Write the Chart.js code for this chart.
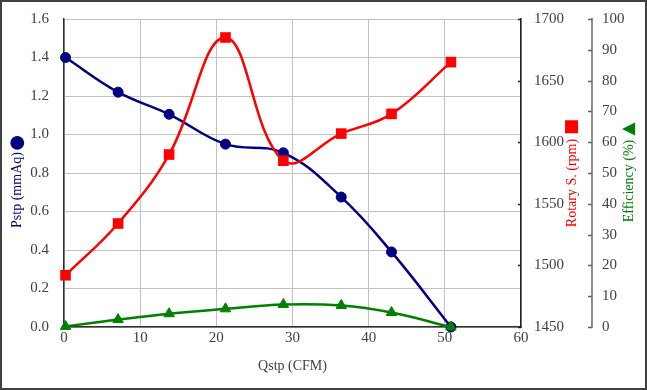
<!DOCTYPE html>
<html>
<head>
<meta charset="utf-8">
<script src="https://cdn.jsdelivr.net/npm/chart.js@4.4.1/dist/chart.umd.min.js"></script>
<style>
  html, body { margin: 0; padding: 0; background: #fff; }
  #wrap { width: 647px; height: 390px; }
</style>
</head>
<body>
<div id="wrap"><canvas id="fan-chart" width="647" height="390"></canvas></div>
<script>
// values
var qstp = [0.2, 7.1, 13.8, 21.2, 28.8, 36.4, 43.0, 50.8];
var pstp = [1.40, 1.22, 1.105, 0.95, 0.905, 0.675, 0.39, 0.0];
var rotary = [1492, 1534, 1590, 1685, 1585, 1607, 1623, 1665];
var efficiency = [0.2, 2.4, 4.3, 5.9, 7.3, 7.0, 4.7, 0.0];

var SERIF = "'Liberation Serif', 'Times New Roman', serif";

function toPoints(xs, ys) {
  return xs.map(function (x, i) { return { x: x, y: ys[i] }; });
}

// fixed axis width; drop the label overflow padding so the plot top stays put
function fixWidth(w) {
  return function (s) {
    s.width = w;
    s.paddingTop = 0;
    s.paddingBottom = 0;
  };
}

// small inward tick marks on the two right axes, rotated axis titles, frame
var decorPlugin = {
  id: "decor",
  beforeDraw: function (chart) {
    var c = chart.ctx;
    c.save();
    c.fillStyle = "#fff";
    c.fillRect(0, 0, chart.width, chart.height);
    c.restore();
  },
  afterDraw: function (chart) {
    var c = chart.ctx;
    c.save();
    [["y1", 3, "#202020"], ["y2", 4, "#606060"]].forEach(function (a) {
      var s = chart.scales[a[0]];
      c.strokeStyle = a[2];
      c.lineWidth = 1.5;
      s.ticks.forEach(function (t) {
        var y = Math.round(s.getPixelForValue(t.value)) + 0.5;
        c.beginPath();
        c.moveTo(s.left - a[1], y);
        c.lineTo(s.left, y);
        c.stroke();
      });
    });

    function vTitle(x, y, text, color, sym, symOff, symFont) {
      c.save();
      c.translate(x, y);
      c.rotate(-Math.PI / 2);
      c.fillStyle = color;
      c.textAlign = "center";
      c.textBaseline = "middle";
      c.font = "14px " + SERIF;
      c.fillText(text, 0, 0);
      c.font = symFont;
      c.fillText(sym, symOff, 0);
      c.restore();
    }
    vTitle(17, 190, "Pstp (mmAq)", "#000080", "\u25CF", 47, "18px 'DejaVu Sans'");
    vTitle(572, 183, "Rotary S. (rpm)", "#ff0000", "\u25A0", 56, "17px 'DejaVu Sans'");
    vTitle(629, 181, "Efficiency (%)", "#008000", "\u25B2", 52, "17px 'DejaVu Sans'");

    c.strokeStyle = "#404040";
    c.lineWidth = 2;
    c.strokeRect(1, 1, chart.width - 2, chart.height - 2);
    c.restore();
  },
};

function drawFanChart() {
  var tickFont = { family: SERIF, size: 15 };
  new Chart(document.getElementById("fan-chart"), {
    type: "scatter",
    data: {
      datasets: [
        {
          label: "Efficiency",
          data: toPoints(qstp, efficiency),
          yAxisID: "y2",
          showLine: true,
          tension: 0.4,
          borderColor: "#008000",
          backgroundColor: "#008000",
          borderWidth: 2.5,
          pointStyle: "triangle",
          pointRadius: 6,
          pointBorderWidth: 1,
          clip: false,
          order: 0,
        },
        {
          label: "Rotary S.",
          data: toPoints(qstp, rotary),
          yAxisID: "y1",
          showLine: true,
          tension: 0.4,
          borderColor: "#ff0000",
          backgroundColor: "#ff0000",
          borderWidth: 2.5,
          pointStyle: "rect",
          pointRadius: 7.5,
          pointBorderWidth: 0,
          clip: false,
          order: 1,
        },
        {
          label: "Pstp",
          data: toPoints(qstp, pstp),
          yAxisID: "y",
          showLine: true,
          tension: 0.4,
          borderColor: "#000080",
          backgroundColor: "#000080",
          borderWidth: 2.5,
          pointStyle: "circle",
          pointRadius: 5,
          pointBorderWidth: 1,
          clip: false,
          order: 2,
        },
      ],
    },
    options: {
      responsive: false,
      animation: false,
      devicePixelRatio: 1,
      layout: { padding: { top: 19, left: 0, right: 0, bottom: 0 } },
      plugins: { legend: { display: false }, tooltip: { enabled: false } },
      scales: {
        x: {
          type: "linear",
          min: 0,
          max: 60,
          afterFit: function (s) {
            s.height = 63;
            s.paddingLeft = 0;
            s.paddingRight = 0;
          },
          grid: { color: "#c0c0c0", drawTicks: false },
          border: { color: "#303030", width: 1.5 },
          ticks: { stepSize: 10, padding: 2, color: "#404040", font: tickFont },
          title: {
            display: true,
            text: "Qstp (CFM)",
            color: "#404040",
            font: { family: SERIF, size: 14 },
            padding: { top: 0, bottom: 15 },
          },
        },
        y: {
          position: "left",
          min: 0,
          max: 1.6,
          afterFit: fixWidth(64),
          grid: { color: "#c0c0c0", drawTicks: false },
          border: { color: "#303030", width: 1.5 },
          ticks: {
            stepSize: 0.2,
            padding: 15,
            color: "#404040",
            font: tickFont,
            callback: function (v) { return v.toFixed(1); },
          },
        },
        y1: {
          position: "right",
          weight: 0,
          min: 1450,
          max: 1700,
          afterFit: fixWidth(71),
          grid: { drawOnChartArea: false, drawTicks: false },
          border: { color: "#202020", width: 1.5 },
          ticks: {
            stepSize: 50,
            padding: 13,
            color: "#404040",
            font: tickFont,
            callback: function (v) { return String(v); },
          },
        },
        y2: {
          position: "right",
          weight: 1,
          min: 0,
          max: 100,
          afterFit: fixWidth(55),
          grid: { drawOnChartArea: false, drawTicks: false },
          border: { color: "#8c8c8c", width: 2 },
          ticks: { stepSize: 10, padding: 10, color: "#404040", font: tickFont },
        },
      },
    },
    plugins: [decorPlugin],
  });
}

drawFanChart();
</script>
</body>
</html>
